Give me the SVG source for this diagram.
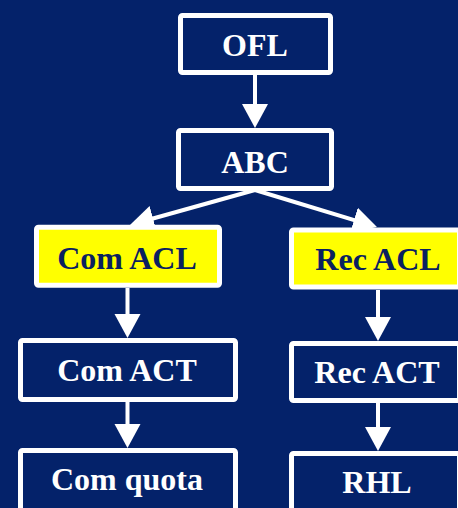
<svg xmlns="http://www.w3.org/2000/svg" width="458" height="508" viewBox="0 0 458 508">
<style>
.box{fill:#04226A;stroke:#FFFFFF;stroke-width:5}
.hl{fill:#FFFF00;stroke:#FFFFFF;stroke-width:5}
.t{font-family:"Liberation Serif","Times New Roman",serif;font-weight:bold;font-size:32px;text-anchor:middle;fill:#FFFFFF}
.td{fill:#0A2160}
.c{stroke:#FFFFFF;stroke-width:4;fill:none;marker-end:url(#ah)}
</style>
<defs>
<marker id="ah" markerUnits="userSpaceOnUse" markerWidth="26" markerHeight="28" refX="14" refY="13" orient="auto" viewBox="0 0 26 28">
<path d="M0,0 L24,13 L0,26 Z" fill="#FFFFFF"/>
</marker>
</defs>
<rect width="458" height="508" fill="#04226A"/>
<g id="connectors">
<line class="c" x1="255" y1="75" x2="255" y2="118"/>
<line class="c" x1="255" y1="190" x2="139.6" y2="222.3"/>
<line class="c" x1="255" y1="190" x2="367.4" y2="224.2"/>
<line class="c" x1="127.5" y1="288" x2="127.5" y2="328"/>
<line class="c" x1="127.5" y1="402" x2="127.5" y2="438"/>
<line class="c" x1="378" y1="290" x2="378" y2="331"/>
<line class="c" x1="378" y1="403" x2="378" y2="441"/>
</g>
<g id="ofl">
<rect class="box" x="180.5" y="15.5" width="150" height="57" rx="2"/>
<text class="t" x="255" y="56">OFL</text>
</g>
<g id="abc">
<rect class="box" x="178.5" y="130.5" width="153" height="58" rx="2"/>
<text class="t" x="255" y="172.5">ABC</text>
</g>
<g id="com-acl">
<rect class="hl" x="36.5" y="227.3" width="183" height="58" rx="2"/>
<text class="t td" x="127" y="268.5">Com ACL</text>
</g>
<g id="rec-acl">
<rect class="hl" x="291.5" y="230" width="168" height="57" rx="2"/>
<text class="t td" x="378" y="270">Rec ACL</text>
</g>
<g id="com-act">
<rect class="box" x="20.5" y="340.5" width="215" height="59" rx="2"/>
<text class="t" x="127" y="380.7">Com ACT</text>
</g>
<g id="rec-act">
<rect class="box" x="291.5" y="343.5" width="168" height="57" rx="2"/>
<text class="t" x="377" y="383.3">Rec ACT</text>
</g>
<g id="com-quota">
<rect class="box" x="20.5" y="450.5" width="215" height="64" rx="2"/>
<text class="t" x="127" y="489.5">Com quota</text>
</g>
<g id="rhl">
<rect class="box" x="291.5" y="453.5" width="168" height="64" rx="2"/>
<text class="t" x="377" y="493.3">RHL</text>
</g>
</svg>
